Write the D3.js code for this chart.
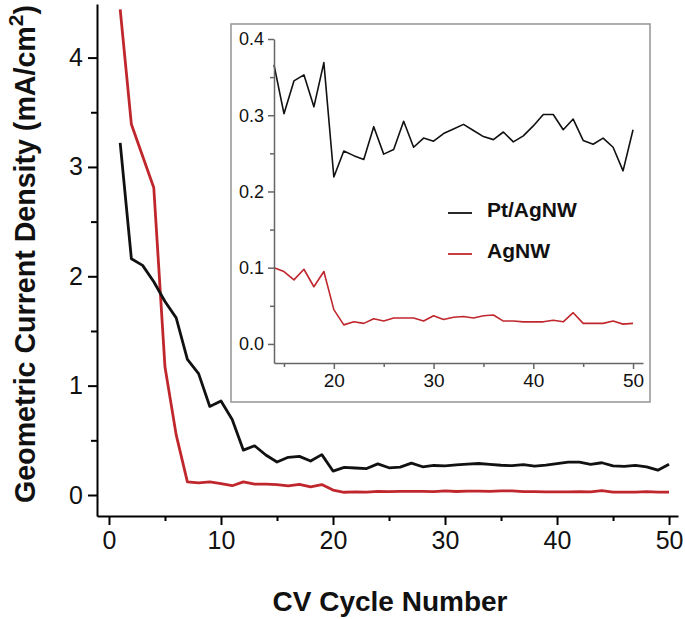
<!DOCTYPE html>
<html><head><meta charset="utf-8">
<script src="https://cdn.jsdelivr.net/npm/d3@7"></script>
<style>body{margin:0;background:#fff}svg{display:block}</style>
</head><body>
<svg id="c" width="685" height="619"></svg>
<script>
const cycles = [1,2,3,4,5,6,7,8,9,10,11,12,13,14,15,16,17,18,19,20,21,22,23,24,25,26,27,28,29,30,31,32,33,34,35,36,37,38,39,40,41,42,43,44,45,46,47,48,49,50];
const ptAgNW = [3.22,2.16,2.10,1.95,1.77,1.62,1.24,1.11,0.81,0.86,0.69,0.41,0.45,0.366,0.302,0.345,0.353,0.311,0.369,0.219,0.253,0.247,0.242,0.285,0.249,0.255,0.292,0.258,0.270,0.266,0.276,0.282,0.288,0.280,0.272,0.268,0.278,0.265,0.273,0.286,0.301,0.301,0.281,0.295,0.267,0.262,0.270,0.258,0.227,0.281];
const agNW = [4.44,3.39,3.10,2.81,1.17,0.55,0.12,0.11,0.12,0.105,0.085,0.12,0.10,0.100,0.095,0.084,0.098,0.075,0.095,0.045,0.025,0.029,0.027,0.033,0.030,0.034,0.034,0.034,0.030,0.037,0.032,0.035,0.036,0.034,0.037,0.038,0.030,0.030,0.029,0.029,0.029,0.031,0.029,0.041,0.027,0.027,0.027,0.030,0.026,0.027];
const seriesNames = ["Pt/AgNW","AgNW"];
const seriesColors = ["#111111","#c0272d"];
const mainXTicks = [0,10,20,30,40,50];
const mainXMinor = [5,15,25,35,45];
const mainYTicks = [0,1,2,3,4];
const mainYMinor = [0.5,1.5,2.5,3.5];
const insetXTicks = [20,30,40,50];
const insetXMinor = [15,25,35,45];
const insetYTicks = [0.0,0.1,0.2,0.3,0.4];
const insetYMinor = [0.05,0.15,0.25,0.35];
const insetStart = 14;

const svg = d3.select("#c");
const font = "Liberation Sans, Arial, Helvetica, sans-serif";

// main scales
const x = d3.scaleLinear().domain([-1.07, 50.8]).range([97, 678]);
const y = d3.scaleLinear().domain([-0.192, 4.49]).range([516, 4]);

const series = [ptAgNW, agNW].map((vals, i) => ({
  name: seriesNames[i], color: seriesColors[i],
  pts: cycles.map((c, j) => ({c, v: vals[j]}))
}));

// main lines
const line = d3.line().x(d => x(d.c)).y(d => y(d.v));
series.slice().reverse().forEach(s => {
  svg.append("path").attr("d", line(s.pts)).attr("fill","none")
    .attr("stroke", s.color).attr("stroke-width", 2.8).attr("stroke-linejoin","round");
});

function styleAxis(g, color, width) {
  g.selectAll("path,line").attr("stroke", color).attr("stroke-width", width);
  g.selectAll("text").attr("fill", "#111").style("font-family", font);
}

// main axes
const gx = svg.append("g").attr("transform","translate(0,516)");
gx.call(d3.axisBottom(x).tickValues(mainXTicks).tickFormat(d3.format("d")).tickSize(9).tickSizeOuter(0).tickPadding(6));
gx.selectAll("text").style("font-size","25px");
styleAxis(gx, "#000", 2);
const gxm = svg.append("g").attr("transform","translate(0,516)");
gxm.call(d3.axisBottom(x).tickValues(mainXMinor).tickFormat("").tickSize(5).tickSizeOuter(0));
gxm.select("path").remove();
styleAxis(gxm, "#000", 2);

const gy = svg.append("g").attr("transform","translate(97,0)");
gy.call(d3.axisLeft(y).tickValues(mainYTicks).tickFormat(d3.format("d")).tickSize(9).tickSizeOuter(0).tickPadding(5));
gy.selectAll("text").style("font-size","25px");
styleAxis(gy, "#000", 2);
const gym = svg.append("g").attr("transform","translate(97,0)");
gym.call(d3.axisLeft(y).tickValues(mainYMinor).tickFormat("").tickSize(6).tickSizeOuter(0));
gym.select("path").remove();
styleAxis(gym, "#000", 2);

// axis titles
svg.append("text").attr("x", 390).attr("y", 611).attr("text-anchor","middle")
  .style("font-family", font).style("font-weight","bold").style("font-size","28px").attr("fill","#111")
  .text("CV Cycle Number");
const yt = svg.append("text").attr("transform","translate(35,254) rotate(-90)").attr("text-anchor","middle")
  .style("font-family", font).style("font-weight","bold").style("font-size","28.6px").attr("fill","#111");
yt.append("tspan").text("Geometric Current Density (mA/cm");
yt.append("tspan").attr("dy", -12).style("font-size","21px").text("2");
yt.append("tspan").attr("dy", 12).text(")");

// inset
svg.append("rect").attr("x",231).attr("y",24).attr("width",419).attr("height",378)
  .attr("fill","#fff").attr("stroke","#9a9a9a").attr("stroke-width",1.6);

const ix = d3.scaleLinear().domain([14, 51]).range([274, 643]);
const iy = d3.scaleLinear().domain([-0.025, 0.4]).range([363, 39]);
const iline = d3.line().x(d => ix(d.c)).y(d => iy(d.v));
series.forEach(s => {
  svg.append("path").attr("d", iline(s.pts.filter(p => p.c >= insetStart))).attr("fill","none")
    .attr("stroke", s.color).attr("stroke-width", 1.6).attr("stroke-linejoin","round");
});

const igx = svg.append("g").attr("transform","translate(0,363)");
igx.call(d3.axisBottom(ix).tickValues(insetXTicks).tickFormat(d3.format("d")).tickSize(6).tickSizeOuter(0).tickPadding(5));
igx.selectAll("text").style("font-size","19px");
styleAxis(igx, "#666", 1.5);
const igxm = svg.append("g").attr("transform","translate(0,363)");
igxm.call(d3.axisBottom(ix).tickValues(insetXMinor).tickFormat("").tickSize(4).tickSizeOuter(0));
igxm.select("path").remove();
styleAxis(igxm, "#666", 1.5);

const igy = svg.append("g").attr("transform","translate(274,0)");
igy.call(d3.axisLeft(iy).tickValues(insetYTicks).tickFormat(d3.format(".1f")).tickSize(6).tickSizeOuter(0).tickPadding(4));
igy.selectAll("text").style("font-size","18px");
styleAxis(igy, "#666", 1.5);
const igym = svg.append("g").attr("transform","translate(274,0)");
igym.call(d3.axisLeft(iy).tickValues(insetYMinor).tickFormat("").tickSize(4).tickSizeOuter(0));
igym.select("path").remove();
styleAxis(igym, "#666", 1.5);

// legend
const leg = svg.append("g");
series.forEach((s, i) => {
  const by = 217 + i * 41;
  leg.append("line").attr("x1",448).attr("x2",472).attr("y1",by-4).attr("y2",by-4)
    .attr("stroke", s.color).attr("stroke-width", 1.8);
  leg.append("text").attr("x",487).attr("y",by)
    .style("font-family", font).style("font-weight","bold").style("font-size","21px").attr("fill","#111")
    .text(s.name);
});
</script>
</body></html>
